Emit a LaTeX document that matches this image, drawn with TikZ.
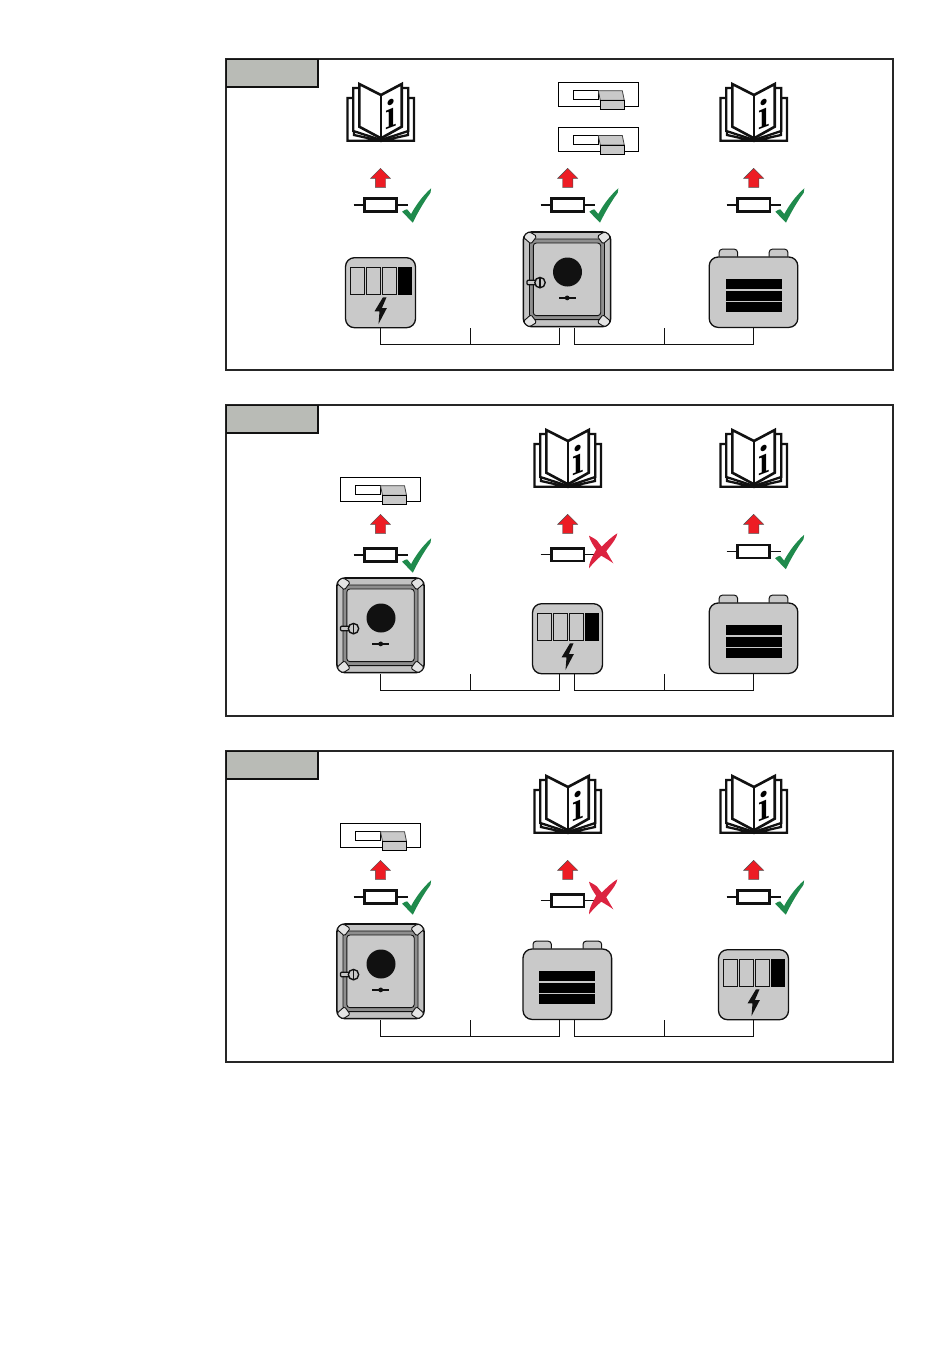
\documentclass[tikz,border=0pt]{standalone}
\usepackage{amsmath}
\definecolor{tabgray}{HTML}{B9BBB6}
\definecolor{devgray}{HTML}{C9C9C9}
\definecolor{doorgray}{HTML}{C2C2C2}
\definecolor{bandgray}{HTML}{8E8E8E}
\definecolor{capgray}{HTML}{E4E4E4}
\definecolor{arrowred}{HTML}{ED1C24}
\definecolor{crossred}{HTML}{DC2340}
\definecolor{checkgreen}{HTML}{1F8A4C}
\definecolor{inkblack}{HTML}{111111}

\begin{document}
\begin{tikzpicture}[x=1pt,y=-1pt]

\tikzset{panel/.style = {draw=black!85,line width=1.2pt,fill=white,minimum width=667pt,minimum height=311pt,inner sep=0pt,outer sep=0pt}}
\tikzset{tabbox/.style = {draw=inkblack,line width=1.5pt,fill=tabgray,minimum width=91.5pt,minimum height=27.5pt,inner sep=0pt,outer sep=0pt}}
\tikzset{wire/.style = {draw=inkblack,line width=.9pt}}
\tikzset{corner/.style = {draw=inkblack,line width=.9pt,fill=capgray,rounded corners=1.5pt}}

\tikzset{book/.pic = {
  \draw[inkblack,line width=2.3pt,fill=white,line join=miter]
    (-33.5,-15) -- (-33.5,27.8) -- (33,27.8) -- (33,-15) -- (27,-15) -- (27,22) -- (0,28) -- (-27,22) -- (-27,-15) -- cycle;
  \draw[inkblack,line width=2.3pt,fill=white,line join=miter]
    (-27.7,-25) -- (-27.7,18) -- (0,27) -- (27.3,18) -- (27.3,-25) -- (20,-25) -- (0,-10) -- (-20,-25) -- cycle;
  \draw[inkblack,line width=2.6pt,fill=white,line join=miter]
    (-21.7,-29) -- (0,-18) -- (20.7,-29) -- (20.7,13.7) -- (0,25.3) -- (-21.7,13.7) -- cycle;
  \draw[inkblack,line width=2.6pt] (0,-18) -- (0,25.3);
  \node[font=\bfseries\fontsize{42}{42}\selectfont,text=black,yslant=.38,transform shape,inner sep=0pt] (-letter) at (10,0.5) {i};
}}
\tikzset{switchbox/.pic = {
  \draw[black,line width=1pt,fill=white] (-40,-11.8) rectangle (40,11.8);
  \draw[black,line width=1pt,fill=white] (-25,-3.8) rectangle (0,4.8);
  \draw[black!75,line width=.8pt,fill=devgray] (0,-3.8) -- (24,-3.8) -- (26,5.8) -- (2,5.8) -- cycle;
  \draw[black,line width=1pt,fill=devgray] (2,5.8) rectangle (26,14.8);
}}
\tikzset{resistor/.pic = {
  \draw[inkblack,line width=1.2pt] (-27,0) -- (27,0);
  \draw[inkblack,line width=2.7pt,fill=white] (-16.3,-6.4) rectangle (16.3,6.4);
}}
\tikzset{uparrow/.pic = {
  \draw[black!70,line width=.4pt,fill=arrowred] (0,0) -- (10,10) -- (5.2,10) -- (5.2,19) -- (-5.2,19) -- (-5.2,10) -- (-10,10) -- cycle;
}}
\tikzset{okmark/.pic = {
  \fill[checkgreen] (21.6,6.7) .. controls (23.5,5.2) and (25,4.6) .. (26.6,4.3) -- (30.6,9)
    .. controls (36,-1) and (43,-10) .. (50.6,-16.7)
    .. controls (51,-13) and (50,-12) .. (47,-8)
    .. controls (41,1) and (36,10) .. (32.3,17.7) -- cycle;
}}
\tikzset{failmark/.pic = {
  \fill[crossred] (21.3,-19) .. controls (25,-17) and (27,-16) .. (29,-14.5) -- (34,-8)
    .. controls (39,-13) and (44,-18) .. (49.6,-21.4)
    .. controls (49,-17) and (46,-13) .. (38.5,-3.5)
    -- (45.6,8.6) .. controls (42,6) and (38,3.5) .. (33.5,1)
    .. controls (28,6) and (24,10) .. (21.3,13.6)
    .. controls (21,9) and (24,3) .. (28.5,-5)
    .. controls (25,-10) and (22,-15) .. (21.3,-19) -- cycle;
}}
\tikzset{door/.pic = {
  \draw[inkblack,line width=1.6pt,fill=doorgray,rounded corners=8pt] (-43.6,-47.3) rectangle (43.6,47.3);
  \draw[inkblack,line width=.9pt,fill=bandgray,rounded corners=5pt] (-37.5,-40.3) rectangle (37.5,40.3);
  \draw[corner] (-43.6,-42) -- (-36,-35.3) -- (-30.3,-43) -- (-37,-47.3) -- (-40,-46.5) -- cycle;
  \draw[corner] (43.6,-42) -- (36,-35.3) -- (30.3,-43) -- (37,-47.3) -- (40,-46.5) -- cycle;
  \draw[corner] (-43.6,42) -- (-36,35.3) -- (-30.3,43) -- (-37,47.3) -- (-40,46.5) -- cycle;
  \draw[corner] (43.6,42) -- (36,35.3) -- (30.3,43) -- (37,47.3) -- (40,46.5) -- cycle;
  \draw[inkblack,line width=.9pt,fill=devgray,rounded corners=3pt] (-33.7,-36.3) rectangle (33.7,36.3);
  \fill[inkblack] (0.5,-7.3) circle (14.5pt);
  \fill[inkblack] (-8.5,17.6) rectangle (8.9,19.6);
  \fill[inkblack] (0.2,18.6) circle (2.4pt);
  \draw[inkblack,line width=1.3pt,fill=devgray,rounded corners=1pt] (-40,1) rectangle (-31,5.5);
  \draw[inkblack,line width=1.4pt,fill=devgray] (-27,3.3) circle (5.2pt);
  \draw[inkblack,line width=1.6pt] (-27,-1.9) -- (-27,8.5);
}}
\tikzset{charger/.pic = {
  \draw[inkblack,line width=1.3pt,fill=devgray,rounded corners=9pt] (-35,-35) rectangle (35,35);
  \draw[inkblack,line width=1pt,fill=devgray] (-29.6,-25.7) rectangle (-16,2);
  \draw[inkblack,line width=1pt,fill=devgray] (-13.6,-25.7) rectangle (0,2);
  \draw[inkblack,line width=1pt,fill=devgray] (2,-25.7) rectangle (15.7,2);
  \fill[black] (17.7,-25.7) rectangle (31,2);
  \fill[inkblack] (2.4,4.7) -- (-6,18.7) -- (-1,18.7) -- (-2,31.3) -- (6.4,15.3) -- (1.4,15.3) -- (6,4.7) -- cycle;
}}
\tikzset{battery/.pic = {
  \draw[inkblack,line width=1pt,fill=devgray,rounded corners=3pt] (-34.3,-35.5) -- (-34.3,-43) -- (-16,-43) -- (-16,-35.5);
  \draw[inkblack,line width=1pt,fill=devgray,rounded corners=3pt] (15.7,-35.5) -- (15.7,-43) -- (34.3,-43) -- (34.3,-35.5);
  \draw[inkblack,line width=1.3pt,fill=devgray,rounded corners=9pt] (-44.3,-35.2) rectangle (44.3,35.2);
  \fill[black] (-28,-13.2) rectangle (28,-3.2);
  \fill[black] (-28,-1.2) rectangle (28,8.8);
  \fill[black] (-28,10.1) rectangle (28,19.8);
}}

% panels
\path[use as bounding box] (0,0) rectangle (950,1369);
\node[panel] (frame1) at (559.5,214.5) {};
\node[panel] (frame2) at (559.5,560.5) {};
\node[panel] (frame3) at (559.5,906.5) {};
\node[tabbox] (tab1) at (272,73) {};
\node[tabbox] (tab2) at (272,419) {};
\node[tabbox] (tab3) at (272,765) {};

% first panel
\pic (book1a) at (381,113) {book};
\pic (sw1a) at (598.3,94.5) {switchbox};
\pic (sw1b) at (598.3,139.3) {switchbox};
\pic (book1c) at (754,113) {book};
\pic (up1a) at (380.5,168.3) {uparrow};
\pic (up1b) at (567.7,168.3) {uparrow};
\pic (up1c) at (753.7,168.3) {uparrow};
\pic (res1a) at (380.5,205) {resistor};
\pic (res1b) at (567.7,205) {resistor};
\pic (res1c) at (753.7,205) {resistor};
\pic (ok1a) at (380.5,205) {okmark};
\pic (ok1b) at (567.7,205) {okmark};
\pic (ok1c) at (753.7,205) {okmark};
\pic (chg1) at (380.5,292.7) {charger};
\pic (door1) at (567,279.3) {door};
\pic (bat1) at (753.5,292.2) {battery};

% second panel
\pic (sw2a) at (380.5,489.5) {switchbox};
\pic (book2b) at (568,459) {book};
\pic (book2c) at (754,459) {book};
\pic (up2a) at (380.5,514.3) {uparrow};
\pic (up2b) at (567.7,514.3) {uparrow};
\pic (up2c) at (753.7,514.3) {uparrow};
\pic (res2a) at (380.5,555) {resistor};
\pic (res2b) at (567.7,554.7) {resistor};
\pic (res2c) at (753.5,551.5) {resistor};
\pic (ok2a) at (380.5,555) {okmark};
\pic (no2b) at (567.7,554.7) {failmark};
\pic (ok2c) at (753.5,551.5) {okmark};
\pic (door2) at (380.5,625.3) {door};
\pic (chg2) at (567.5,638.7) {charger};
\pic (bat2) at (753.5,638.2) {battery};

% third panel
\pic (sw3a) at (380.5,835.5) {switchbox};
\pic (book3b) at (568,805) {book};
\pic (book3c) at (754,805) {book};
\pic (up3a) at (380.5,860.3) {uparrow};
\pic (up3b) at (567.7,860.3) {uparrow};
\pic (up3c) at (753.7,860.3) {uparrow};
\pic (res3a) at (380.5,897) {resistor};
\pic (res3b) at (567.7,900.7) {resistor};
\pic (res3c) at (753.5,897) {resistor};
\pic (ok3a) at (380.5,897) {okmark};
\pic (no3b) at (567.7,900.7) {failmark};
\pic (ok3c) at (753.5,897) {okmark};
\pic (door3) at (380.5,971.3) {door};
\pic (bat3) at (567.3,984.2) {battery};
\pic (chg3) at (753.5,984.7) {charger};

% wiring
\coordinate (a1) at (380.5,328);
\coordinate (b1) at (559.5,328);
\coordinate (c1) at (574.5,328);
\coordinate (d1) at (753.5,328);
\coordinate (e1) at (470.5,328);
\coordinate (f1) at (664.5,328);
\coordinate (g1) at (470.5,344.5);
\coordinate (h1) at (664.5,344.5);
\draw[wire] (a1) |- (g1) -| (b1);
\draw[wire] (c1) |- (h1) -| (d1);
\draw[wire] (e1) -- (g1);
\draw[wire] (f1) -- (h1);

\coordinate (a2) at (380.5,674);
\coordinate (b2) at (559.5,674);
\coordinate (c2) at (574.5,674);
\coordinate (d2) at (753.5,674);
\coordinate (e2) at (470.5,674);
\coordinate (f2) at (664.5,674);
\coordinate (g2) at (470.5,690.5);
\coordinate (h2) at (664.5,690.5);
\draw[wire] (a2) |- (g2) -| (b2);
\draw[wire] (c2) |- (h2) -| (d2);
\draw[wire] (e2) -- (g2);
\draw[wire] (f2) -- (h2);

\coordinate (a3) at (380.5,1020);
\coordinate (b3) at (559.5,1020);
\coordinate (c3) at (574.5,1020);
\coordinate (d3) at (753.5,1020);
\coordinate (e3) at (470.5,1020);
\coordinate (f3) at (664.5,1020);
\coordinate (g3) at (470.5,1036.5);
\coordinate (h3) at (664.5,1036.5);
\draw[wire] (a3) |- (g3) -| (b3);
\draw[wire] (c3) |- (h3) -| (d3);
\draw[wire] (e3) -- (g3);
\draw[wire] (f3) -- (h3);

\end{tikzpicture}
\end{document}
